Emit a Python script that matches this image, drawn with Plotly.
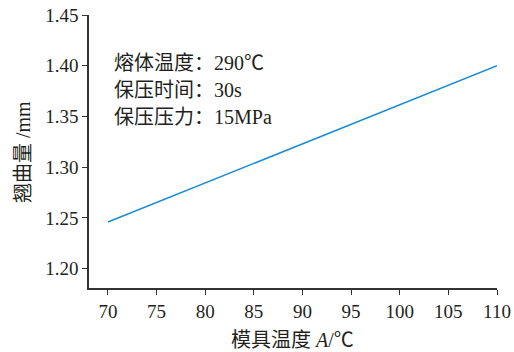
import plotly.graph_objects as go

mold_temp = [70, 110]
warpage = [1.246, 1.400]
x_ticks = [70, 75, 80, 85, 90, 95, 100, 105, 110]
y_ticks = [1.20, 1.25, 1.30, 1.35, 1.40, 1.45]
y_tick_labels = ["1.20", "1.25", "1.30", "1.35", "1.40", "1.45"]
notes = ["熔体温度：290℃", "保压时间：30s", "保压压力：15MPa"]

FONT = "Liberation Serif, Times New Roman, Noto Sans CJK SC, serif"
AX = "#333333"
TXT = "#231f20"
L, R, T, B = 89, 17, 15, 64
W, H = 514, 352

fig = go.Figure()
fig.add_trace(go.Scatter(x=mold_temp, y=warpage, mode="lines",
                         line=dict(color="#1a8ad4", width=1.5), showlegend=False))

fig.update_layout(
    width=W, height=H,
    margin=dict(l=L, r=R, t=T, b=B),
    paper_bgcolor="white", plot_bgcolor="white",
    font=dict(family=FONT, size=19, color=TXT),
    xaxis=dict(range=[68.05, 110], tickvals=x_ticks, showgrid=False, zeroline=False,
               automargin=False,
               showline=True, linecolor=AX, linewidth=1.5, ticks="outside",
               ticklen=5, tickcolor=AX, tickwidth=1.2,
               tickfont=dict(size=19)),
    yaxis=dict(range=[1.181, 1.45], tickvals=y_ticks, ticktext=y_tick_labels,
               showgrid=False, zeroline=False, automargin=False,
               showline=True, linecolor=AX, linewidth=1.5, ticks="outside",
               ticklen=5, tickcolor=AX, tickwidth=1.2,
               tickfont=dict(size=19)),
)

pw, ph = W - L - R, H - T - B


def to_paper(px, py):
    return (px - L) / pw, 1 - (py - T) / ph


for i, t in enumerate(notes):
    ax_, ay_ = to_paper(112, 63 + i * 27)
    fig.add_annotation(x=ax_, y=ay_, xref="paper", yref="paper", text=t,
                       showarrow=False, xanchor="left", yanchor="middle",
                       font=dict(size=20, family=FONT, color=TXT))

# axis titles
ax_, ay_ = to_paper(292, 340)
fig.add_annotation(x=ax_, y=ay_, xref="paper", yref="paper",
                   text="模具温度 <i>A</i>/℃", showarrow=False,
                   xanchor="center", yanchor="middle",
                   font=dict(size=20, family=FONT, color=TXT))
ax_, ay_ = to_paper(23, 152)
fig.add_annotation(x=ax_, y=ay_, xref="paper", yref="paper",
                   text="翘曲量 /mm", showarrow=False, textangle=-90,
                   xanchor="center", yanchor="middle",
                   font=dict(size=20, family=FONT, color=TXT))

fig.write_html("out.html", config={"displayModeBar": False},
               post_script="document.body.style.margin='0';document.body.style.overflow='hidden';")
